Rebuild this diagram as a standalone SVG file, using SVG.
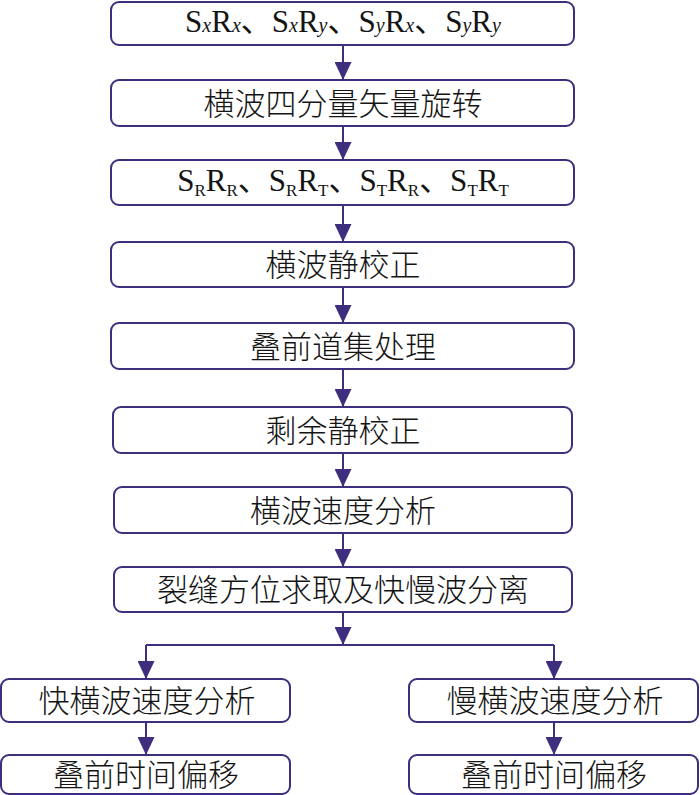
<svg xmlns="http://www.w3.org/2000/svg" width="700" height="795" viewBox="0 0 700 795">
<defs>
<style>
.box{fill:#fff;stroke:#3f2d7e;stroke-width:2}
.cn{font-family:"Noto Sans CJK SC","Noto Sans",sans-serif;font-size:31px;font-weight:300;fill:#141414;text-anchor:middle}
.lat{font-family:"Liberation Serif","Noto Sans CJK SC",serif;font-size:31px;fill:#141414;text-anchor:middle}
.sub{font-size:20px;font-style:italic}
.sub2{font-size:17px}
.ln{stroke:#3f2d7e;stroke-width:2;fill:none}
</style>
<marker id="ah" viewBox="0 0 18 17" refX="18" refY="8.5" markerWidth="18" markerHeight="17" markerUnits="userSpaceOnUse" orient="auto">
<path d="M0,0 L18,8.5 L0,17 Z" fill="#3f2d7e"/>
</marker>
</defs>
<rect width="700" height="795" fill="#fff"/>
<g id="connectors">
<line class="ln" x1="343" y1="45" x2="343" y2="80" marker-end="url(#ah)"/>
<line class="ln" x1="343" y1="126" x2="343" y2="160" marker-end="url(#ah)"/>
<line class="ln" x1="343" y1="205" x2="343" y2="242" marker-end="url(#ah)"/>
<line class="ln" x1="343" y1="287" x2="343" y2="323" marker-end="url(#ah)"/>
<line class="ln" x1="343" y1="369" x2="343" y2="407" marker-end="url(#ah)"/>
<line class="ln" x1="343" y1="453" x2="343" y2="487" marker-end="url(#ah)"/>
<line class="ln" x1="343" y1="533" x2="343" y2="567" marker-end="url(#ah)"/>
<line class="ln" x1="343" y1="612" x2="343" y2="645" marker-end="url(#ah)"/>
<line class="ln" x1="146" y1="645" x2="554" y2="645"/>
<line class="ln" x1="146" y1="645" x2="146" y2="679" marker-end="url(#ah)"/>
<line class="ln" x1="554" y1="645" x2="554" y2="679" marker-end="url(#ah)"/>
<line class="ln" x1="146" y1="722" x2="146" y2="755" marker-end="url(#ah)"/>
<line class="ln" x1="554" y1="722" x2="554" y2="755" marker-end="url(#ah)"/>
</g>
<g id="n1">
<rect class="box" x="111" y="2" width="463" height="43" rx="8"/>
<text class="lat" x="343" y="32">S<tspan class="sub">x</tspan>R<tspan class="sub">x</tspan>、S<tspan class="sub">x</tspan>R<tspan class="sub">y</tspan>、S<tspan class="sub">y</tspan>R<tspan class="sub">x</tspan>、S<tspan class="sub">y</tspan>R<tspan class="sub">y</tspan></text>
</g>
<g id="n2">
<rect class="box" x="111" y="80" width="463" height="46" rx="8"/>
<text class="cn" x="343" y="115">横波四分量矢量旋转</text>
</g>
<g id="n3">
<rect class="box" x="111" y="160" width="463" height="45" rx="8"/>
<text class="lat" x="343" y="191">S<tspan class="sub2" dy="5">R</tspan><tspan dy="-5">R</tspan><tspan class="sub2" dy="5">R</tspan><tspan dy="-5">、S</tspan><tspan class="sub2" dy="5">R</tspan><tspan dy="-5">R</tspan><tspan class="sub2" dy="5">T</tspan><tspan dy="-5">、S</tspan><tspan class="sub2" dy="5">T</tspan><tspan dy="-5">R</tspan><tspan class="sub2" dy="5">R</tspan><tspan dy="-5">、S</tspan><tspan class="sub2" dy="5">T</tspan><tspan dy="-5">R</tspan><tspan class="sub2" dy="5">T</tspan></text>
</g>
<g id="n4">
<rect class="box" x="111" y="242" width="463" height="45" rx="8"/>
<text class="cn" x="343" y="276">横波静校正</text>
</g>
<g id="n5">
<rect class="box" x="111" y="323" width="463" height="46" rx="8"/>
<text class="cn" x="343" y="358">叠前道集处理</text>
</g>
<g id="n6">
<rect class="box" x="113" y="407" width="459" height="46" rx="8"/>
<text class="cn" x="343" y="442">剩余静校正</text>
</g>
<g id="n7">
<rect class="box" x="114" y="487" width="458" height="46" rx="8"/>
<text class="cn" x="343" y="522">横波速度分析</text>
</g>
<g id="n8">
<rect class="box" x="114" y="567" width="458" height="45" rx="8"/>
<text class="cn" x="343" y="601">裂缝方位求取及快慢波分离</text>
</g>
<g id="n9">
<rect class="box" x="1" y="679" width="289" height="43" rx="8"/>
<text class="cn" x="147" y="712">快横波速度分析</text>
</g>
<g id="n10">
<rect class="box" x="409" y="679" width="289" height="43" rx="8"/>
<text class="cn" x="555" y="712">慢横波速度分析</text>
</g>
<g id="n11">
<rect class="box" x="1" y="755" width="289" height="39" rx="8"/>
<text class="cn" x="146" y="786">叠前时间偏移</text>
</g>
<g id="n12">
<rect class="box" x="409" y="755" width="289" height="39" rx="8"/>
<text class="cn" x="554" y="786">叠前时间偏移</text>
</g>
</svg>
